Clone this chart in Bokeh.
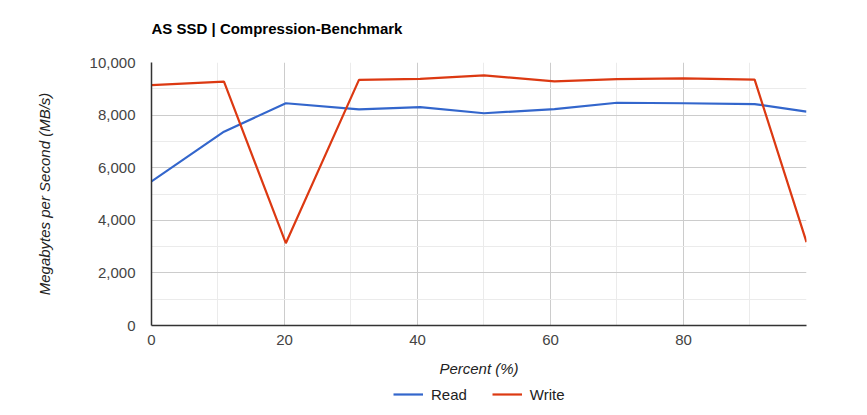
from bokeh.plotting import figure
from bokeh.layouts import column
from bokeh.models import (Legend, LegendItem, NumeralTickFormatter, FixedTicker,
                          Range1d, Label)
from bokeh.embed import file_html
from bokeh.resources import INLINE

percent = [0, 10.9, 20.2, 31.2, 40.4, 50, 60.6, 70, 80, 90.7, 98.5]
read = [5480, 7370, 8450, 8220, 8300, 8070, 8230, 8470, 8450, 8420, 8130]
write = [9140, 9270, 3130, 9340, 9380, 9510, 9280, 9370, 9400, 9350, 3170]
series_names = ["Read", "Write"]
series_colors = ["#3366cc", "#dc3912"]
series_values = [read, write]
x_ticks = [0, 20, 40, 60, 80]
y_ticks = [0, 2000, 4000, 6000, 8000, 10000]
title_text = "AS SSD | Compression-Benchmark"

FONT = "Liberation Sans"
FS = "15px"

# title strip
tf = figure(width=860, height=40, output_backend="svg", toolbar_location=None,
            x_axis_location=None, y_axis_location=None, title=None,
            x_range=Range1d(0, 1), y_range=Range1d(0, 1),
            min_border=0, outline_line_color=None)
tf.grid.visible = False
tf.add_layout(Label(x=0, y=12, x_units="screen", y_units="screen",
                    text=title_text, text_font=FONT, text_font_size=FS,
                    text_font_style="bold", text_color="#000000",
                    text_baseline="middle", text_align="left"))

p = figure(width=860, height=340, output_backend="svg", toolbar_location=None,
           x_range=Range1d(0, 98.5), y_range=Range1d(0, 10000), title=None,
           min_border_left=151, min_border_right=54, min_border_top=22,
           min_border_bottom=55)
p.outline_line_color = None

for vals, col in zip(series_values, series_colors):
    p.line(percent, vals, line_color=col, line_width=2.2)

p.xaxis.ticker = FixedTicker(ticks=x_ticks, minor_ticks=[10, 30, 50, 70, 90])
p.yaxis.ticker = FixedTicker(ticks=y_ticks, minor_ticks=[1000, 3000, 5000, 7000, 9000])
p.yaxis.formatter = NumeralTickFormatter(format="0,0")

for ax in (p.xaxis, p.yaxis):
    ax.major_tick_line_color = None
    ax.minor_tick_line_color = None
    ax.axis_line_color = "#333333"
    ax.axis_line_width = 1.5
    ax.major_label_text_font = FONT
    ax.major_label_text_font_size = FS
    ax.major_label_text_color = "#444444"
    ax.axis_label_text_font = FONT
    ax.axis_label_text_font_size = FS
    ax.axis_label_text_font_style = "italic"
    ax.axis_label_text_color = "#222222"

p.xaxis.axis_label = "Percent (%)"
p.yaxis.axis_label = "Megabytes per Second (MB/s)"
p.xaxis.major_label_standoff = 3
p.yaxis.major_label_standoff = 10
p.xaxis.axis_label_standoff = 12
p.yaxis.axis_label_standoff = 34

p.grid.grid_line_color = "#cccccc"
p.grid.minor_grid_line_color = "#ebebeb"
p.grid.grid_line_width = 1
p.grid.minor_grid_line_width = 1

# legend strip below the chart
lg = figure(width=860, height=30, output_backend="svg", toolbar_location=None,
            x_axis_location=None, y_axis_location=None, title=None,
            x_range=Range1d(-1, 0), y_range=Range1d(-1, 0),
            min_border=0, outline_line_color=None)
lg.grid.visible = False
items = []
for name, col, vals in zip(series_names, series_colors, series_values):
    # single-point line: draws nothing, only feeds the legend swatch
    r = lg.line(x=percent[:1], y=vals[:1], line_color=col, line_width=2.2)
    items.append(LegendItem(label=name, renderers=[r]))
legend = Legend(items=items, orientation="horizontal", location=(242, 6),
                border_line_color=None, background_fill_alpha=0,
                label_text_font=FONT, label_text_font_size=FS,
                label_text_color="#222222", glyph_width=30, spacing=25,
                label_standoff=8, padding=0, margin=0)
lg.add_layout(legend, "center")

layout = column(tf, p, lg, spacing=0)
open("out.html", "w").write(file_html(layout, INLINE))
